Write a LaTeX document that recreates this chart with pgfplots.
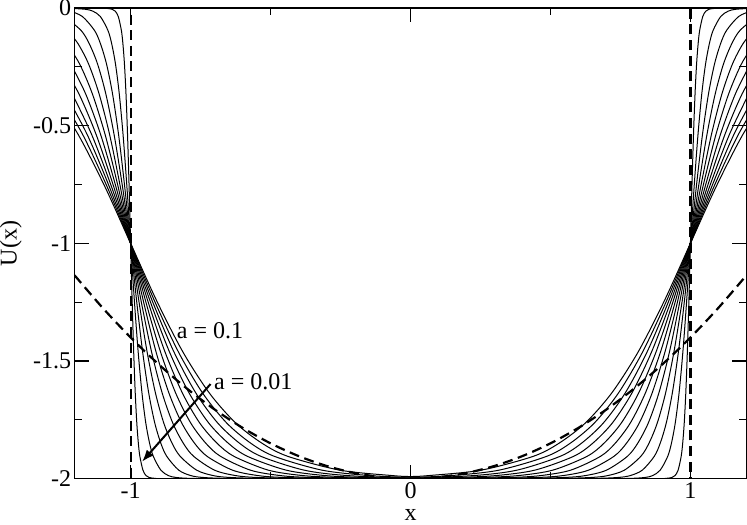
\documentclass[border=0pt]{standalone}
\usepackage{fontspec}
\setmainfont{Liberation Serif}
\usepackage{pgfplots}
\pgfplotsset{compat=1.18}
\usetikzlibrary{arrows.meta}

\begin{document}
\begin{tikzpicture}
\begin{axis}[
  scale only axis, width=335.5pt, height=235pt,
  xmin=-1.2, xmax=1.2, ymin=-2, ymax=0,
  xtick={-1,0,1}, xticklabels={-1,0,1},
  minor xtick={-0.5,0.5},
  ytick={-2,-1.5,-1,-0.5,0}, yticklabels={-2,-1.5,-1,-0.5,0},
  minor ytick={-1.75,-1.25,-0.75,-0.25},
  tick align=inside,
  major tick length=7pt, minor tick length=3.5pt,
  every tick/.style={black, line width=0.5pt},
  axis line style={line width=0.6pt},
  xlabel={x}, ylabel={U(x)},
  ticklabel style={font=\fontsize{12}{14}\selectfont},
  yticklabel style={inner xsep=1.5pt, inner ysep=0pt},
  xticklabel style={inner ysep=1.8pt},
  label style={font=\fontsize{12}{14}\selectfont},
  xlabel style={inner ysep=2pt, yshift=-1.5pt},
  ylabel style={inner ysep=0pt, yshift=4pt},
  /pgf/number format/assume math mode=true,
  curve/.style={black, line width=0.5pt, smooth},
  dsh/.style={black, line width=1.1pt, dash pattern=on 5pt off 2.8pt},
]
% square well (dashed)
\addplot[dsh, sharp plot] coordinates {(-1.2,0) (-1,0) (-1,-2) (1,-2) (1,0) (1.2,0)};
% harmonic (dashed)
\addplot[dsh, smooth] coordinates {(-1.2,-1.136) (-1.1,-1.274) (-1.0,-1.4) (-0.9,-1.514) (-0.8,-1.616) (-0.7,-1.706) (-0.6,-1.784) (-0.5,-1.85) (-0.4,-1.904) (-0.3,-1.946) (-0.2,-1.976) (-0.1,-1.994) (0,-2) (0.1,-1.994) (0.2,-1.976) (0.3,-1.946) (0.4,-1.904) (0.5,-1.85) (0.6,-1.784) (0.7,-1.706) (0.8,-1.616) (0.9,-1.514) (1.0,-1.4) (1.1,-1.274) (1.2,-1.136)};
% C1 (a = 0.01)
\addplot[curve] coordinates {(-1.2,0) (-1.132,0) (-1.088,-0.001) (-1.066,-0.005) (-1.055,-0.013) (-1.044,-0.036) (-1.033,-0.095) (-1.0275,-0.152) (-1.022,-0.238) (-1.0165,-0.365) (-1.011,-0.538) (-1.0055,-0.755) (-1,-1) (-0.9945,-1.245) (-0.989,-1.462) (-0.9835,-1.635) (-0.978,-1.762) (-0.9725,-1.848) (-0.967,-1.905) (-0.956,-1.964) (-0.945,-1.987) (-0.934,-1.995) (-0.912,-1.999) (-0.868,-2) (0,-2) (0.868,-2) (0.912,-1.999) (0.934,-1.995) (0.945,-1.987) (0.956,-1.964) (0.967,-1.905) (0.9725,-1.848) (0.978,-1.762) (0.9835,-1.635) (0.989,-1.462) (0.9945,-1.245) (1,-1) (1.0055,-0.755) (1.011,-0.538) (1.0165,-0.365) (1.022,-0.238) (1.0275,-0.152) (1.033,-0.095) (1.044,-0.036) (1.055,-0.013) (1.066,-0.005) (1.088,-0.001) (1.132,0) (1.2,0)};
% C2
\addplot[curve] coordinates {(-1.216,-0.001) (-1.162,-0.005) (-1.135,-0.013) (-1.108,-0.036) (-1.081,-0.095) (-1.0675,-0.152) (-1.054,-0.238) (-1.0405,-0.365) (-1.027,-0.538) (-1.0135,-0.755) (-1,-1) (-0.9865,-1.245) (-0.973,-1.462) (-0.9595,-1.635) (-0.946,-1.762) (-0.9325,-1.848) (-0.919,-1.905) (-0.892,-1.964) (-0.865,-1.987) (-0.838,-1.995) (-0.784,-1.999) (-0.676,-2) (0,-2) (0.676,-2) (0.784,-1.999) (0.838,-1.995) (0.865,-1.987) (0.892,-1.964) (0.919,-1.905) (0.9325,-1.848) (0.946,-1.762) (0.9595,-1.635) (0.973,-1.462) (0.9865,-1.245) (1,-1) (1.0135,-0.755) (1.027,-0.538) (1.0405,-0.365) (1.054,-0.238) (1.0675,-0.152) (1.081,-0.095) (1.108,-0.036) (1.135,-0.013) (1.162,-0.005) (1.216,-0.001)};
% C3
\addplot[curve] coordinates {(-1.215,-0.013) (-1.172,-0.036) (-1.129,-0.095) (-1.1075,-0.152) (-1.086,-0.238) (-1.0645,-0.365) (-1.043,-0.538) (-1.0215,-0.755) (-1,-1) (-0.9785,-1.245) (-0.957,-1.462) (-0.9355,-1.635) (-0.914,-1.762) (-0.8925,-1.848) (-0.871,-1.905) (-0.828,-1.964) (-0.785,-1.987) (-0.742,-1.995) (-0.656,-1.999) (-0.484,-2) (0,-2) (0.484,-2) (0.656,-1.999) (0.742,-1.995) (0.785,-1.987) (0.828,-1.964) (0.871,-1.905) (0.8925,-1.848) (0.914,-1.762) (0.9355,-1.635) (0.957,-1.462) (0.9785,-1.245) (1,-1) (1.0215,-0.755) (1.043,-0.538) (1.0645,-0.365) (1.086,-0.238) (1.1075,-0.152) (1.129,-0.095) (1.172,-0.036) (1.215,-0.013)};
% C4
\addplot[curve] coordinates {(-1.236,-0.036) (-1.177,-0.095) (-1.1475,-0.152) (-1.118,-0.238) (-1.0885,-0.365) (-1.059,-0.538) (-1.0295,-0.755) (-1,-1) (-0.9705,-1.245) (-0.941,-1.462) (-0.9115,-1.635) (-0.882,-1.762) (-0.8525,-1.848) (-0.823,-1.905) (-0.764,-1.964) (-0.705,-1.987) (-0.646,-1.995) (-0.528,-1.999) (-0.292,-2) (0,-2) (0.292,-2) (0.528,-1.999) (0.646,-1.995) (0.705,-1.987) (0.764,-1.964) (0.823,-1.905) (0.8525,-1.848) (0.882,-1.762) (0.9115,-1.635) (0.941,-1.462) (0.9705,-1.245) (1,-1) (1.0295,-0.755) (1.059,-0.538) (1.0885,-0.365) (1.118,-0.238) (1.1475,-0.152) (1.177,-0.095) (1.236,-0.036)};
% C5
\addplot[curve] coordinates {(-1.225,-0.095) (-1.1875,-0.152) (-1.15,-0.238) (-1.1125,-0.365) (-1.075,-0.538) (-1.0375,-0.755) (-1,-1) (-0.9625,-1.245) (-0.925,-1.462) (-0.8875,-1.635) (-0.85,-1.762) (-0.8125,-1.848) (-0.775,-1.905) (-0.7,-1.964) (-0.625,-1.987) (-0.55,-1.995) (-0.4,-1.999) (-0.1,-2) (0,-2) (0.1,-2) (0.4,-1.999) (0.55,-1.995) (0.625,-1.987) (0.7,-1.964) (0.775,-1.905) (0.8125,-1.848) (0.85,-1.762) (0.8875,-1.635) (0.925,-1.462) (0.9625,-1.245) (1,-1) (1.0375,-0.755) (1.075,-0.538) (1.1125,-0.365) (1.15,-0.238) (1.1875,-0.152) (1.225,-0.095)};
% C6
\addplot[curve] coordinates {(-1.2275,-0.152) (-1.182,-0.238) (-1.1365,-0.365) (-1.091,-0.538) (-1.0455,-0.755) (-1,-1) (-0.9545,-1.245) (-0.909,-1.462) (-0.8635,-1.635) (-0.818,-1.762) (-0.7725,-1.848) (-0.727,-1.905) (-0.636,-1.964) (-0.545,-1.987) (-0.454,-1.995) (-0.272,-1.999) (0,-2) (0.272,-1.999) (0.454,-1.995) (0.545,-1.987) (0.636,-1.964) (0.727,-1.905) (0.7725,-1.848) (0.818,-1.762) (0.8635,-1.635) (0.909,-1.462) (0.9545,-1.245) (1,-1) (1.0455,-0.755) (1.091,-0.538) (1.1365,-0.365) (1.182,-0.238) (1.2275,-0.152)};
% C7
\addplot[curve] coordinates {(-1.214,-0.238) (-1.1605,-0.365) (-1.107,-0.538) (-1.0535,-0.755) (-1,-1) (-0.9465,-1.245) (-0.893,-1.462) (-0.8395,-1.635) (-0.786,-1.762) (-0.7325,-1.848) (-0.679,-1.905) (-0.572,-1.964) (-0.465,-1.987) (-0.358,-1.995) (-0.144,-1.999) (0,-2) (0.144,-1.999) (0.358,-1.995) (0.465,-1.987) (0.572,-1.964) (0.679,-1.905) (0.7325,-1.848) (0.786,-1.762) (0.8395,-1.635) (0.893,-1.462) (0.9465,-1.245) (1,-1) (1.0535,-0.755) (1.107,-0.538) (1.1605,-0.365) (1.214,-0.238)};
% C8
\addplot[curve] coordinates {(-1.246,-0.238) (-1.1845,-0.365) (-1.123,-0.538) (-1.0615,-0.755) (-1,-1) (-0.9385,-1.245) (-0.877,-1.462) (-0.8155,-1.635) (-0.754,-1.762) (-0.6925,-1.848) (-0.631,-1.905) (-0.508,-1.964) (-0.385,-1.987) (-0.262,-1.995) (-0.139,-1.998) (0,-1.999) (0.139,-1.998) (0.262,-1.995) (0.385,-1.987) (0.508,-1.964) (0.631,-1.905) (0.6925,-1.848) (0.754,-1.762) (0.8155,-1.635) (0.877,-1.462) (0.9385,-1.245) (1,-1) (1.0615,-0.755) (1.123,-0.538) (1.1845,-0.365) (1.246,-0.238)};
% C9
\addplot[curve] coordinates {(-1.2085,-0.365) (-1.139,-0.538) (-1.0695,-0.755) (-1,-1) (-0.9305,-1.245) (-0.861,-1.462) (-0.7915,-1.635) (-0.722,-1.762) (-0.6525,-1.848) (-0.583,-1.905) (-0.444,-1.964) (-0.305,-1.987) (-0.166,-1.995) (0,-1.998) (0.166,-1.995) (0.305,-1.987) (0.444,-1.964) (0.583,-1.905) (0.6525,-1.848) (0.722,-1.762) (0.7915,-1.635) (0.861,-1.462) (0.9305,-1.245) (1,-1) (1.0695,-0.755) (1.139,-0.538) (1.2085,-0.365)};
% C10
\addplot[curve] coordinates {(-1.2325,-0.365) (-1.155,-0.538) (-1.0775,-0.755) (-1,-1) (-0.9225,-1.245) (-0.845,-1.462) (-0.7675,-1.635) (-0.69,-1.762) (-0.6125,-1.848) (-0.535,-1.905) (-0.38,-1.964) (-0.225,-1.987) (0,-1.997) (0.225,-1.987) (0.38,-1.964) (0.535,-1.905) (0.6125,-1.848) (0.69,-1.762) (0.7675,-1.635) (0.845,-1.462) (0.9225,-1.245) (1,-1) (1.0775,-0.755) (1.155,-0.538) (1.2325,-0.365)};
% C11
\addplot[curve] coordinates {(-1.2565,-0.365) (-1.171,-0.538) (-1.0855,-0.755) (-1,-1) (-0.9145,-1.245) (-0.829,-1.462) (-0.7435,-1.635) (-0.658,-1.762) (-0.5725,-1.848) (-0.487,-1.905) (-0.316,-1.964) (-0.145,-1.987) (0,-1.994) (0.145,-1.987) (0.316,-1.964) (0.487,-1.905) (0.5725,-1.848) (0.658,-1.762) (0.7435,-1.635) (0.829,-1.462) (0.9145,-1.245) (1,-1) (1.0855,-0.755) (1.171,-0.538) (1.2565,-0.365)};
% C12 (a = 0.1)
\addplot[curve] coordinates {(-1.2805,-0.365) (-1.187,-0.538) (-1.0935,-0.755) (-1,-1) (-0.9065,-1.245) (-0.813,-1.462) (-0.7195,-1.635) (-0.626,-1.762) (-0.5325,-1.848) (-0.439,-1.905) (-0.252,-1.964) (-0.065,-1.987) (0,-1.991) (0.065,-1.987) (0.252,-1.964) (0.439,-1.905) (0.5325,-1.848) (0.626,-1.762) (0.7195,-1.635) (0.813,-1.462) (0.9065,-1.245) (1,-1) (1.0935,-0.755) (1.187,-0.538) (1.2805,-0.365)};
% arrow
\addplot[black, line width=1pt, -{Latex[length=6pt,width=4.5pt]}] coordinates {(-0.7145,-1.598) (-0.959,-1.928)};
\node[font=\fontsize{12}{14}\selectfont] at (axis cs:-0.716,-1.37) {a = 0.1};
\node[font=\fontsize{12}{14}\selectfont] at (axis cs:-0.562,-1.586) {a = 0.01};
\end{axis}
\end{tikzpicture}
\end{document}
